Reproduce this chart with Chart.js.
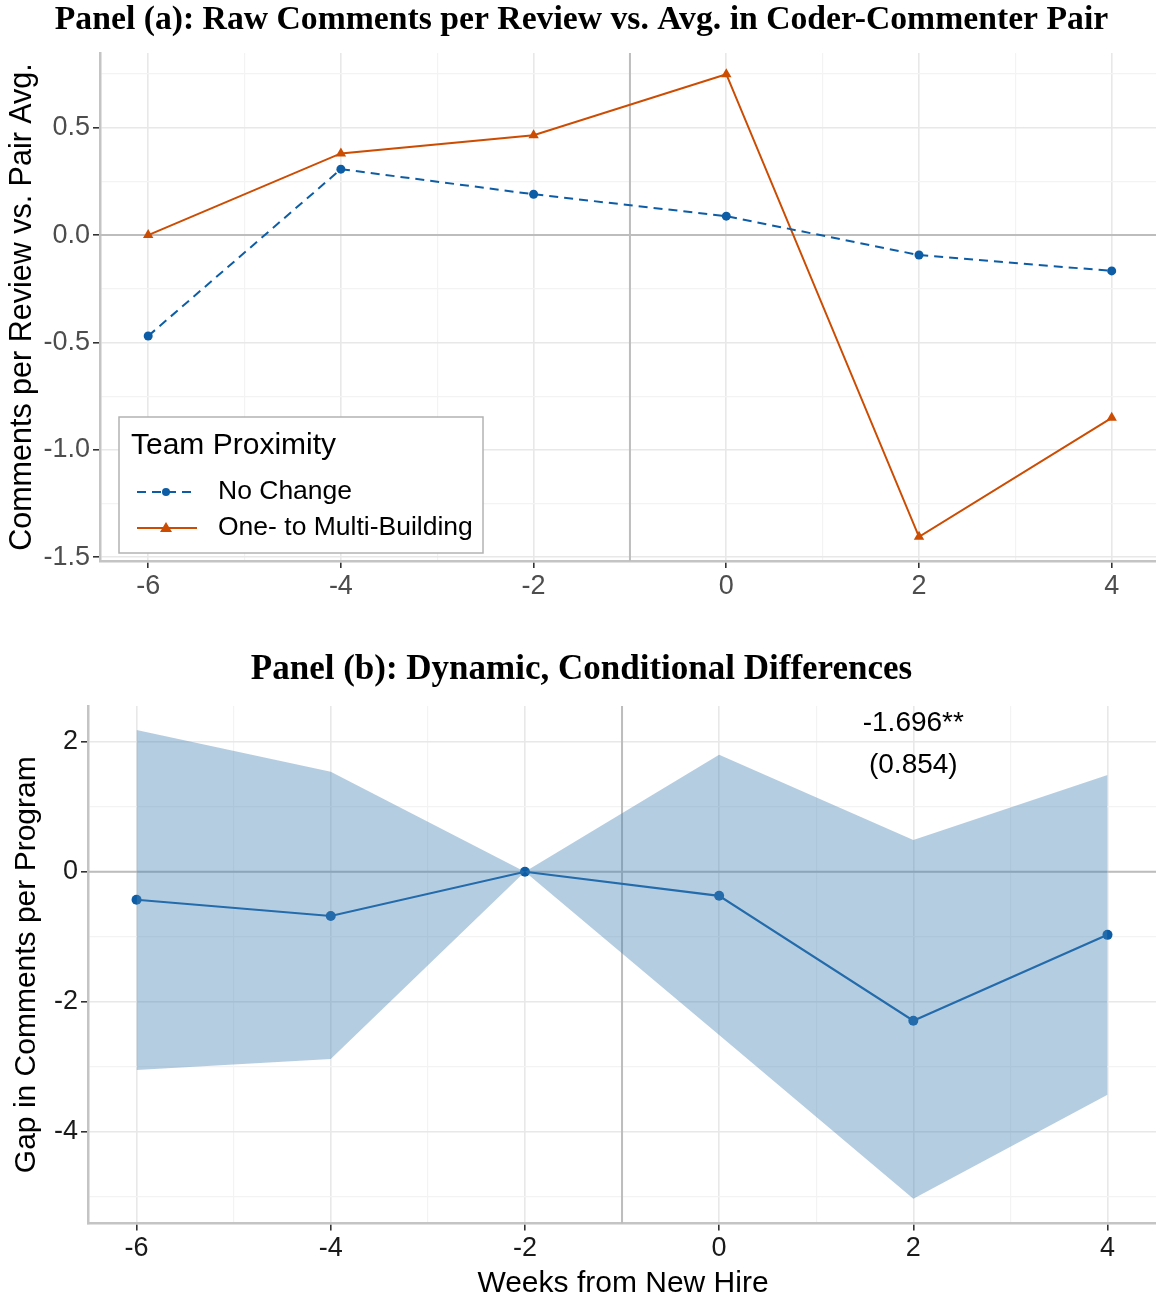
<!DOCTYPE html>
<html>
<head>
<meta charset="utf-8">
<script src="https://cdn.jsdelivr.net/npm/chart.js@4.4.1/dist/chart.umd.min.js"></script>
<style>
  html, body { margin: 0; background: #fff; overflow: hidden; }
  .panel { position: absolute; left: 0; width: 1163px; }
  #boxA { top: 0; height: 610px; }
  #boxB { top: 630px; height: 668px; }
</style>
</head>
<body>
<div class="panel" id="boxA"><canvas id="chartA"></canvas></div>
<div class="panel" id="boxB"><canvas id="chartB"></canvas></div>
<script>
// weeks relative to the new hire
const weeks = [-6, -4, -2, 0, 2, 4];

// panel (a): raw comments per review vs pair average
const noChange = [-0.47, 0.307, 0.19, 0.088, -0.093, -0.167];
const multiBuilding = [0.0, 0.38, 0.465, 0.749, -1.405, -0.851];

// panel (b): conditional gap with confidence band
const gapEstimate = [-0.43, -0.68, 0, -0.37, -2.29, -0.97];
const gapUpper = [2.18, 1.54, 0, 1.80, 0.49, 1.49];
const gapLower = [-3.05, -2.88, 0, -2.51, -5.03, -3.43];

const xTicks = [-6, -4, -2, 0, 2, 4];
const xMinor = [-5, -3, -1, 1, 3];
const yTicksA = [-1.5, -1.0, -0.5, 0.0, 0.5];
const yMinorA = [-1.25, -0.75, -0.25, 0.25, 0.75];
const yTicksB = [-4, -2, 0, 2];
const yMinorB = [-5, -3, -1, 1];

const hireLine = -1;          // vertical reference line
const annotX = 2;
const annotLines = ['-1.696**', '(0.854)'];
const annotY = [2.28, 1.64];

const SANS = "'Liberation Sans', Arial, Helvetica, sans-serif";
const SERIF = "'Liberation Serif', 'Times New Roman', serif";
const BLUE = '#0C5DA5';
const ORANGE = '#CC4C02';

function pts(ys) {
  return weeks.map((w, i) => ({ x: w, y: ys[i] }));
}

function setTicks(major, minor) {
  return scale => {
    scale.ticks = major.concat(minor).sort((a, b) => a - b).map(v => ({ value: v }));
  };
}

function gridOpts(major) {
  const isMajor = ctx => ctx.tick && major.some(v => Math.abs(v - ctx.tick.value) < 1e-6);
  return {
    color: ctx => isMajor(ctx) ? '#e8e8e8' : '#f3f3f3',
    lineWidth: ctx => isMajor(ctx) ? 1.6 : 1.2,
    tickColor: ctx => isMajor(ctx) ? '#333' : 'rgba(0,0,0,0)',
    tickLength: 7,
    drawTicks: true
  };
}

// gray lines at x = -1 and y = 0
const refLines = {
  id: 'refLines',
  beforeDatasetsDraw(chart) {
    const { ctx, chartArea: a, scales } = chart;
    const xp = scales.x.getPixelForValue(hireLine);
    const yp = scales.y.getPixelForValue(0);
    ctx.save();
    ctx.strokeStyle = '#bdbdbd';
    ctx.lineWidth = 2;
    ctx.beginPath();
    ctx.moveTo(xp, a.top); ctx.lineTo(xp, a.bottom);
    ctx.moveTo(a.left, yp); ctx.lineTo(a.right, yp);
    ctx.stroke();
    ctx.restore();
  }
};

// legend box drawn inside the plot of panel (a)
const legendBox = {
  id: 'legendBox',
  afterDraw(chart) {
    const { ctx, chartArea: a } = chart;
    const x = a.left + 19, w = 364, h = 136;
    const y = a.bottom - 8 - h;
    ctx.save();
    ctx.fillStyle = '#fff';
    ctx.fillRect(x, y, w, h);
    ctx.strokeStyle = '#b3b3b3';
    ctx.lineWidth = 1.5;
    ctx.strokeRect(x, y, w, h);
    ctx.fillStyle = '#000';
    ctx.textBaseline = 'middle';
    ctx.font = '30px ' + SANS;
    ctx.fillText('Team Proximity', x + 12, y + 29);
    ctx.font = '26.5px ' + SANS;
    chart.data.datasets.forEach((ds, i) => {
      const cy = y + 75 + i * 36;
      ctx.strokeStyle = ds.borderColor;
      ctx.fillStyle = ds.borderColor;
      ctx.lineWidth = 2;
      ctx.setLineDash(ds.borderDash || []);
      ctx.beginPath();
      ctx.moveTo(x + 18, cy); ctx.lineTo(x + 78, cy);
      ctx.stroke();
      ctx.setLineDash([]);
      const mx = x + 47;
      ctx.beginPath();
      if (ds.pointStyle === 'triangle') {
        ctx.moveTo(mx, cy - 6); ctx.lineTo(mx + 6, cy + 4); ctx.lineTo(mx - 6, cy + 4);
        ctx.closePath();
      } else {
        ctx.arc(mx, cy, 4, 0, Math.PI * 2);
      }
      ctx.fill();
      ctx.fillStyle = '#000';
      ctx.fillText(ds.label, x + 99, cy);
    });
    ctx.restore();
  }
};

// coefficient text in panel (b)
const coefText = {
  id: 'coefText',
  afterDatasetsDraw(chart) {
    const { ctx, scales } = chart;
    ctx.save();
    ctx.fillStyle = '#000';
    ctx.font = '28px ' + SANS;
    ctx.textAlign = 'center';
    ctx.textBaseline = 'middle';
    annotLines.forEach((t, i) => {
      ctx.fillText(t, scales.x.getPixelForValue(annotX), scales.y.getPixelForValue(annotY[i]));
    });
    ctx.restore();
  }
};

Chart.defaults.font.family = SANS;
Chart.defaults.animation = false;

new Chart(document.getElementById('chartA'), {
  type: 'line',
  data: {
    datasets: [{
      label: 'No Change',
      data: pts(noChange),
      borderColor: BLUE,
      backgroundColor: BLUE,
      borderWidth: 2,
      borderDash: [9, 6],
      pointStyle: 'circle',
      pointRadius: 4.5,
      pointBorderWidth: 0,
      tension: 0
    }, {
      label: 'One- to Multi-Building',
      data: pts(multiBuilding),
      borderColor: ORANGE,
      backgroundColor: ORANGE,
      borderWidth: 2,
      pointStyle: 'triangle',
      pointRadius: 6,
      pointBorderWidth: 0,
      tension: 0
    }]
  },
  options: {
    responsive: true,
    maintainAspectRatio: false,
    layout: { padding: { left: 0, right: 0, top: 0, bottom: 0 } },
    plugins: {
      legend: { display: false },
      tooltip: { enabled: false },
      title: {
        display: true,
        text: 'Panel (a): Raw Comments per Review vs. Avg. in Coder-Commenter Pair',
        font: { family: SERIF, size: 33.7, weight: 'bold', lineHeight: 1.2 },
        color: '#000',
        padding: { top: 0.5, bottom: 12.1 }
      }
    },
    scales: {
      x: {
        type: 'linear',
        min: -6.5,
        max: 4.47,
        afterBuildTicks: setTicks(xTicks, xMinor),
        afterFit: s => { s.height = 49; },
        grid: gridOpts(xTicks),
        border: { display: true, color: '#c4c4c4', width: 2.5 },
        ticks: {
          font: { size: 27 },
          color: '#4d4d4d',
          padding: 2,
          maxRotation: 0,
          autoSkip: false,
          callback: v => xTicks.includes(v) ? String(v) : ''
        }
      },
      y: {
        min: -1.5175,
        max: 0.8475,
        afterBuildTicks: setTicks(yTicksA, yMinorA),
        afterFit: s => { s.width = 100; },
        grid: gridOpts(yTicksA),
        border: { display: true, color: '#c4c4c4', width: 2.5 },
        ticks: {
          font: { size: 27 },
          color: '#4d4d4d',
          padding: 3,
          autoSkip: false,
          callback: v => yTicksA.some(t => Math.abs(t - v) < 1e-6) ? v.toFixed(1) : ''
        },
        title: {
          display: true,
          text: 'Comments per Review vs. Pair Avg.',
          font: { size: 30.5 },
          color: '#000',
          padding: { top: 4, bottom: 0 }
        }
      }
    }
  },
  plugins: [refLines, legendBox]
});

new Chart(document.getElementById('chartB'), {
  type: 'line',
  data: {
    datasets: [{
      label: 'upper',
      data: pts(gapUpper),
      borderWidth: 0,
      pointRadius: 0,
      fill: '+1',
      backgroundColor: 'rgba(70,130,180,0.4)',
      tension: 0
    }, {
      label: 'lower',
      data: pts(gapLower),
      borderWidth: 0,
      pointRadius: 0,
      fill: false,
      tension: 0
    }, {
      label: 'estimate',
      data: pts(gapEstimate),
      borderColor: BLUE,
      backgroundColor: BLUE,
      borderWidth: 2.2,
      pointRadius: 5,
      pointBorderWidth: 0,
      fill: false,
      tension: 0
    }]
  },
  options: {
    responsive: true,
    maintainAspectRatio: false,
    layout: { padding: { left: 0, right: 0, top: 0, bottom: 0 } },
    plugins: {
      legend: { display: false },
      tooltip: { enabled: false },
      title: {
        display: true,
        text: 'Panel (b): Dynamic, Conditional Differences',
        font: { family: SERIF, size: 35, weight: 'bold', lineHeight: 1.2 },
        color: '#000',
        padding: { top: 19, bottom: 15 }
      }
    },
    scales: {
      x: {
        type: 'linear',
        min: -6.5,
        max: 4.52,
        afterBuildTicks: setTicks(xTicks, xMinor),
        afterFit: s => { s.height = 74.5; },
        grid: gridOpts(xTicks),
        border: { display: true, color: '#c4c4c4', width: 2.5 },
        ticks: {
          font: { size: 27 },
          color: '#1a1a1a',
          padding: 2,
          maxRotation: 0,
          autoSkip: false,
          callback: v => xTicks.includes(v) ? String(v) : ''
        },
        title: {
          display: true,
          text: 'Weeks from New Hire',
          font: { size: 30 },
          color: '#000',
          padding: { top: 0, bottom: -4 }
        }
      },
      y: {
        min: -5.41,
        max: 2.55,
        afterBuildTicks: setTicks(yTicksB, yMinorB),
        afterFit: s => { s.width = 88; },
        grid: gridOpts(yTicksB),
        border: { display: true, color: '#c4c4c4', width: 2.5 },
        ticks: {
          font: { size: 27 },
          color: '#1a1a1a',
          padding: 3,
          autoSkip: false,
          callback: v => yTicksB.includes(v) ? String(v) : ''
        },
        title: {
          display: true,
          text: 'Gap in Comments per Program',
          font: { size: 30 },
          color: '#000',
          padding: { top: 9, bottom: 0 }
        }
      }
    }
  },
  plugins: [refLines, coefText]
});
</script>
</body>
</html>
